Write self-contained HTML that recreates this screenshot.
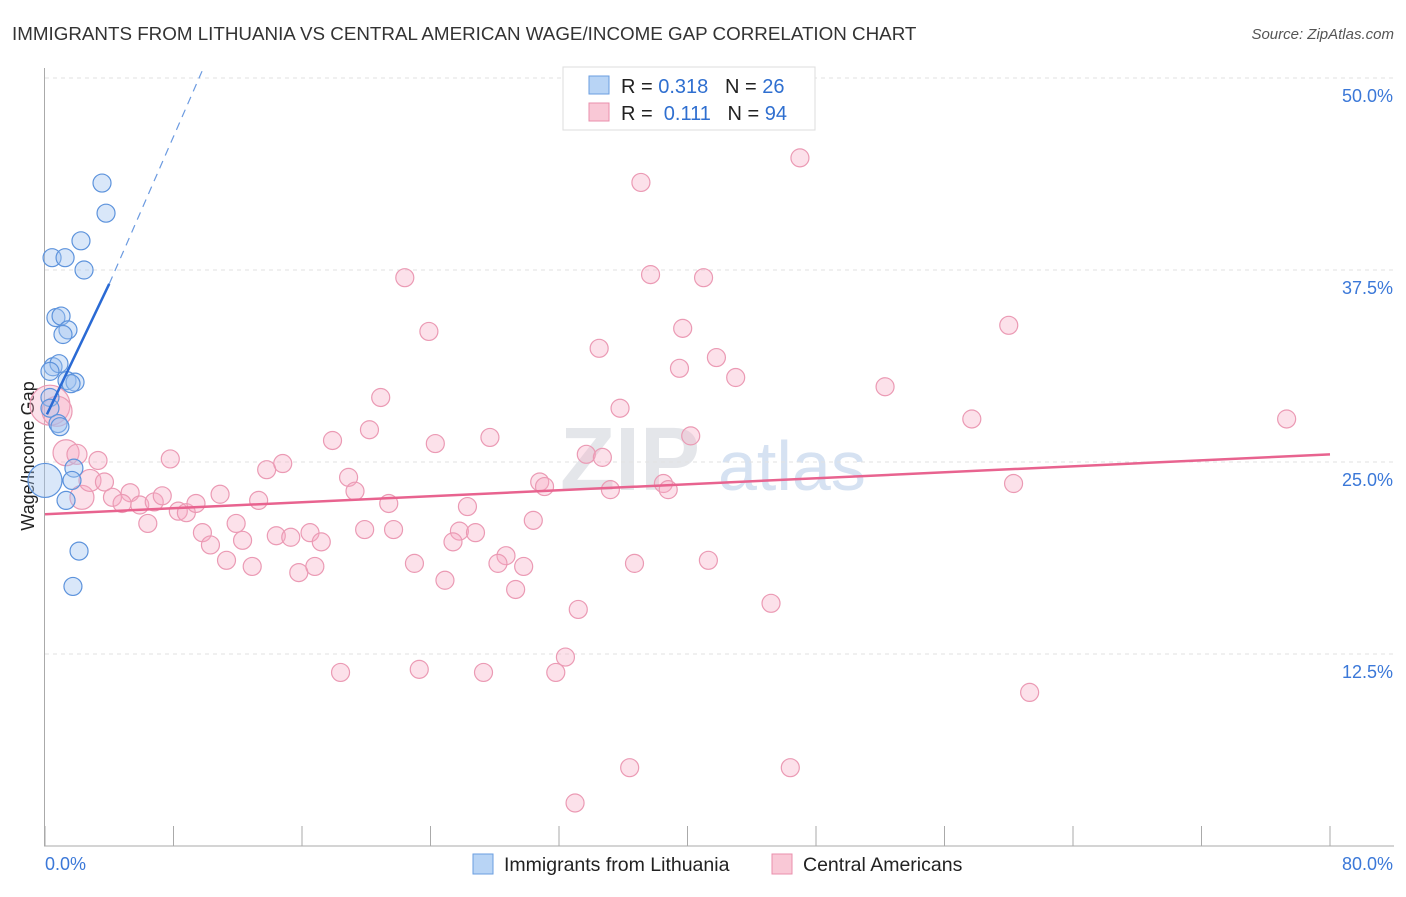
<!DOCTYPE html>
<html><head><meta charset="utf-8"><style>
body{margin:0;background:#fff;font-family:"Liberation Sans",sans-serif}
svg text{font-family:"Liberation Sans",sans-serif}
</style></head><body>
<svg id="c" width="1406" height="892" xmlns="http://www.w3.org/2000/svg">
<text x="12" y="40" font-size="18.8" fill="#333">IMMIGRANTS FROM LITHUANIA VS CENTRAL AMERICAN WAGE/INCOME GAP CORRELATION CHART</text>
<text x="1394" y="39" font-size="15" fill="#555" font-style="italic" text-anchor="end">Source: ZipAtlas.com</text>
<text x="34" y="456" font-size="18" fill="#222" text-anchor="middle" transform="rotate(-90 34 456)">Wage/Income Gap</text>
<text x="560" y="490" font-size="90" fill="#e4e6ea" font-family="Liberation Serif" font-weight="bold">ZIP</text>
<text x="718" y="490" font-size="70" fill="#d6e2f2">atlas</text>
<g id="grid"></g><g id="pts"></g><g id="lines"></g>
<g>
<rect x="563" y="67" width="252" height="63" fill="#fff" stroke="#ddd"/>
<rect x="589" y="76" width="20" height="18" fill="#b8d4f5" stroke="#6a9ee0"/>
<rect x="589" y="103" width="20" height="18" fill="#f9c8d6" stroke="#ea8fac"/>
<text x="621" y="93" font-size="20" fill="#222" xml:space="preserve">R = <tspan fill="#2f6fd0">0.318</tspan>   N = <tspan fill="#2f6fd0">26</tspan></text>
<text x="621" y="120" font-size="20" fill="#222" xml:space="preserve">R =  <tspan fill="#2f6fd0">0.111</tspan>   N = <tspan fill="#2f6fd0">94</tspan></text>
</g>
<g>
<rect x="473" y="854" width="20" height="20" fill="#b8d4f5" stroke="#6a9ee0"/>
<text x="504" y="871" font-size="19.5" fill="#222">Immigrants from Lithuania</text>
<rect x="772" y="854" width="20" height="20" fill="#f9c8d6" stroke="#ea8fac"/>
<text x="803" y="871" font-size="19.5" fill="#222">Central Americans</text>
</g>
</svg>
<script>
const xTicks=[0,8,16,24,32,40,48,56,64,72,80];
const yTicks=[12.5,25,37.5,50];
const yTickLabels=["12.5%","25.0%","37.5%","50.0%"];
const blueX=[3.55,3.8,2.24,0.44,1.25,2.43,0.68,1.0,1.43,1.12,0.5,0.87,0.31,1.37,1.87,1.62,0.31,0.31,0.81,0.93,0,1.8,1.68,1.31,2.12,1.74];
const blueY=[43.16,41.2,39.4,38.3,38.3,37.5,34.4,34.5,33.6,33.3,31.2,31.4,30.9,30.3,30.2,30.1,29.2,28.5,27.5,27.3,23.8,24.6,23.8,22.5,19.2,16.9];
const blueR=[9,9,9,9,9,9,9,9,9,9,9,9,9,9,9,9,9,9,9,9,17,9,9,9,9,9];
const pinkX=[0.31,0.75,1.31,1.99,2.3,2.8,47.0,37.1,22.4,37.7,41.0,23.9,39.7,60.0,34.5,41.8,39.5,43.0,52.3,20.9,35.8,57.7,77.3,20.2,17.9,24.3,27.7,40.2,33.7,34.7,7.8,3.3,13.8,14.8,18.9,30.8,31.1,38.5,38.8,60.3,35.2,3.7,5.3,4.2,4.8,5.9,6.8,7.3,8.3,8.8,9.4,10.9,13.3,19.3,21.4,26.3,6.4,11.9,9.8,12.3,10.3,14.4,15.3,16.5,17.2,19.9,21.7,25.8,26.8,25.4,30.4,28.7,28.2,29.8,23.0,11.3,12.9,15.8,16.8,24.9,29.3,36.7,41.3,33.2,45.2,32.4,18.4,23.3,27.3,31.8,61.3,36.4,46.4,33.0];
const pinkY=[28.7,28.3,25.6,25.5,22.7,23.8,44.8,43.2,37.0,37.2,37.0,33.5,33.7,33.9,32.4,31.8,31.1,30.5,29.9,29.2,28.5,27.8,27.8,27.1,26.4,26.2,26.6,26.7,25.5,25.3,25.2,25.1,24.5,24.9,24.0,23.7,23.4,23.6,23.2,23.6,23.2,23.7,23.0,22.7,22.3,22.2,22.4,22.8,21.8,21.7,22.3,22.9,22.5,23.1,22.3,22.1,21.0,21.0,20.4,19.9,19.6,20.2,20.1,20.4,19.8,20.6,20.6,20.5,20.4,19.8,21.2,18.9,18.4,18.2,18.4,18.6,18.2,17.8,18.2,17.3,16.7,18.4,18.6,15.4,15.8,12.3,11.3,11.5,11.3,11.3,10.0,5.1,5.1,2.8];
const pinkR=[20,15,13,10,12,11];
const blueTrendX=[0.12,4.0], blueTrendY=[28.1,36.6];
const blueDashX=[4.0,9.8], blueDashY=[36.6,50.5];
const pinkTrendX=[0,80], pinkTrendY=[21.6,25.5];
const sx=v=>45+v/80*1285, sy=v=>846-v/12.5*192;
const NS="http://www.w3.org/2000/svg";
function mk(t,a,p){const e=document.createElementNS(NS,t);for(const k in a)e.setAttribute(k,a[k]);p.appendChild(e);return e;}
const svg=document.getElementById('c'),grid=document.getElementById('grid'),pts=document.getElementById('pts'),lines=document.getElementById('lines');
yTicks.forEach((t,i)=>{const l=mk('line',{x1:45,x2:1394,y1:sy(t),y2:sy(t),stroke:'#e2e2e2','stroke-dasharray':'4,4'},grid);


const tx=mk('text',{x:1393,y:sy(t)+24,'font-size':18,fill:'#3b78d8','text-anchor':'end'},grid);tx.textContent=yTickLabels[i];

});
const ax=mk('line',{x1:44.5,x2:44.5,y1:68,y2:846,stroke:'#aaa'},grid);


const bx=mk('line',{x1:44,x2:1394,y1:846,y2:846,stroke:'#aaa'},grid);


xTicks.forEach(t=>{const l=mk('line',{x1:sx(t),x2:sx(t),y1:826,y2:846,stroke:'#aaa'},grid);

});
const xl0=mk('text',{x:45,y:870,'font-size':18,fill:'#3b78d8'},grid);xl0.textContent='0.0%';


const xl1=mk('text',{x:1393,y:870,'font-size':18,fill:'#3b78d8','text-anchor':'end'},grid);xl1.textContent='80.0%';


pinkX.forEach((v,i)=>{const c=mk('circle',{cx:sx(v),cy:sy(pinkY[i]),r:pinkR[i]||9,fill:'rgba(245,170,195,0.35)',stroke:'#eb9ab4','stroke-width':1.2},pts);

});
blueX.forEach((v,i)=>{const c=mk('circle',{cx:sx(v),cy:sy(blueY[i]),r:blueR[i],fill:'rgba(160,195,240,0.4)',stroke:'#5d93dc','stroke-width':1.2},pts);

});
const pl=mk('line',{x1:sx(pinkTrendX[0]),y1:sy(pinkTrendY[0]),x2:sx(pinkTrendX[1]),y2:sy(pinkTrendY[1]),stroke:'#e8638f','stroke-width':2.5},lines);


const bl=mk('line',{x1:sx(blueTrendX[0]),y1:sy(blueTrendY[0]),x2:sx(blueTrendX[1]),y2:sy(blueTrendY[1]),stroke:'#2a6ad4','stroke-width':2.5},lines);


const bd=mk('line',{x1:sx(blueDashX[0]),y1:sy(blueDashY[0]),x2:sx(blueDashX[1]),y2:sy(blueDashY[1]),stroke:'#6b9ae0','stroke-width':1.2,'stroke-dasharray':'8,6'},lines);


</script>
</body></html>
